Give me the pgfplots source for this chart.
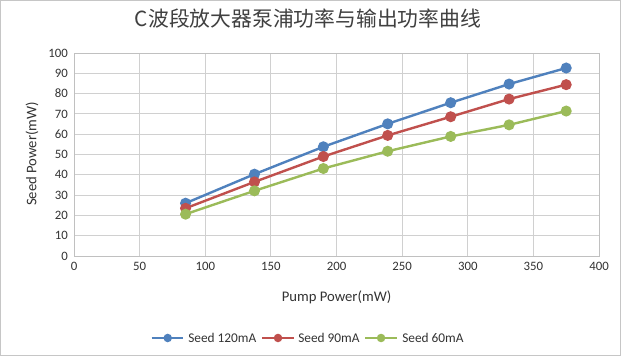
\documentclass[border=0pt]{standalone}
\usepackage{pgfplots}
\pgfplotsset{compat=1.18}
\usepackage{fontspec}
\setmainfont{Carlito}
\newfontfamily\cjk{Noto Sans CJK SC}
\definecolor{cblue}{HTML}{4F81BD}
\definecolor{cred}{HTML}{C0504D}
\definecolor{cgreen}{HTML}{9BBB59}
\definecolor{gridc}{HTML}{D0D0D0}
\begin{document}
\begin{tikzpicture}[x=1pt,y=1pt]
\useasboundingbox (0,0) rectangle (465.75,267);
\fill[white] (0,0) rectangle (465.75,267);
\draw[gray!45,line width=0.8pt] (0.4,0.4) rectangle (465.35,266.6);
\begin{axis}[
  at={(55.5pt,75pt)}, anchor=south west,
  scale only axis, width=393.75pt, height=152.25pt,
  xmin=0, xmax=400, ymin=0, ymax=100,
  xtick={0,50,...,400}, ytick={0,10,...,100},
  grid=major, major grid style={gridc, line width=0.6pt},
  axis line style={gridc!80!gray, line width=0.6pt},
  tick style={draw=none},
  tick label style={font=\fontsize{9.6}{10}\selectfont, text=black!80},
  /pgf/number format/assume math mode=true,
  xticklabel style={yshift=-1pt},
  yticklabel style={xshift=-1pt},
  clip=false,
]
\addplot[cblue, line width=1.8pt, mark=*, mark size=3.2pt, mark options={solid}] coordinates {
(85,26.0) (137.5,40.3) (190,53.8) (239,65.1) (287,75.5) (331.5,84.7) (375,92.6)};
\addplot[cred, line width=1.8pt, mark=*, mark size=3.2pt] coordinates {
(85,23.5) (137.5,36.5) (190,49.0) (239,59.4) (287,68.6) (331.5,77.3) (375,84.4)};
\addplot[cgreen, line width=1.8pt, mark=*, mark size=3.2pt] coordinates {
(85,20.6) (137.5,32.1) (190,43.1) (239,51.6) (287,58.9) (331.5,64.6) (375,71.4)};
\end{axis}
\node at (231,253) {\cjk\fontsize{15.6}{18}\selectfont\color{black!75}C波段放大器泵浦功率与输出功率曲线};
\node at (252.4,44.2) {\fontsize{11}{13}\selectfont\color{black!80}Pump Power(mW)};
\node[rotate=90] at (24,151.5) {\fontsize{11}{13}\selectfont\color{black!80}Seed Power(mW)};
% legend
\begin{scope}[yshift=13.5pt]
\draw[cblue,line width=1.8pt] (113.8,0) -- (137,0); \fill[cblue] (125.8,0) circle (3.2pt);
\node[anchor=west,inner sep=0] at (141,0) {\fontsize{10}{12}\selectfont\color{black!80}Seed 120mA};
\draw[cred,line width=1.8pt] (196.5,0) -- (220.5,0); \fill[cred] (208.5,0) circle (3.2pt);
\node[anchor=west,inner sep=0] at (223.5,0) {\fontsize{10}{12}\selectfont\color{black!80}Seed 90mA};
\draw[cgreen,line width=1.8pt] (273.8,0) -- (297.8,0); \fill[cgreen] (285.8,0) circle (3.2pt);
\node[anchor=west,inner sep=0] at (301.5,0) {\fontsize{10}{12}\selectfont\color{black!80}Seed 60mA};
\end{scope}
\end{tikzpicture}
\end{document}
